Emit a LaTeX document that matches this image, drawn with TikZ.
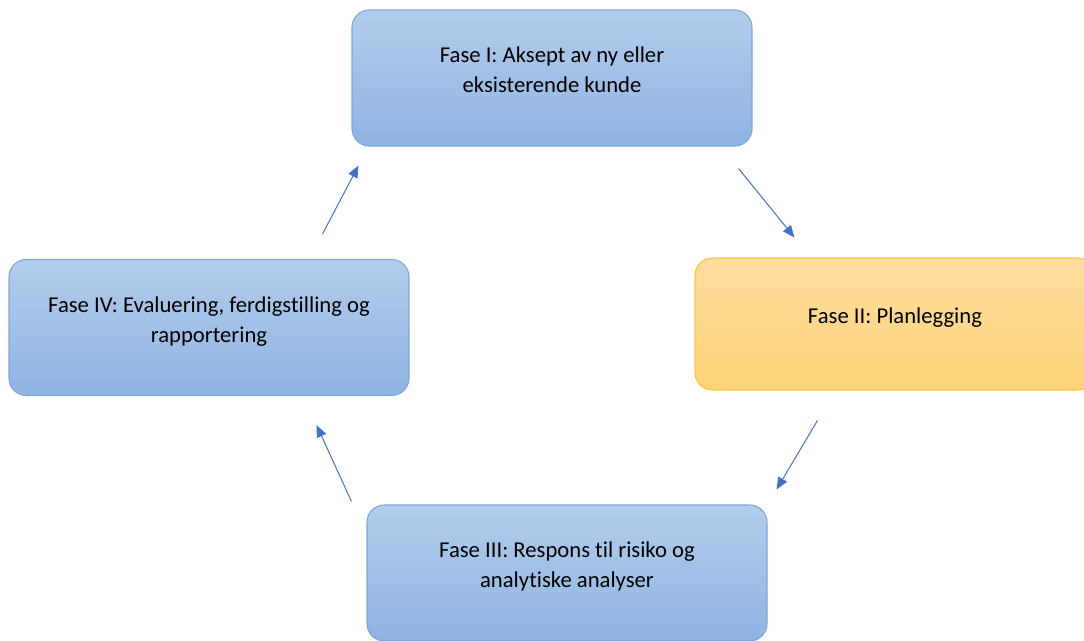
\documentclass[tikz,border=0pt]{standalone}
\usepackage{fontspec}
\setmainfont{Carlito}[Ligatures={NoCommon}]
\usepackage{tikz}
\usetikzlibrary{arrows.meta, positioning, calc}
\usepackage{xcolor}
\definecolor{phasetop}{HTML}{B2CCEB}
\definecolor{phasebottom}{HTML}{8FB4E3}
\definecolor{phaseline}{HTML}{7EA6DA}
\definecolor{plantop}{HTML}{FEDC9E}
\definecolor{planbottom}{HTML}{FED479}
\definecolor{planline}{HTML}{FFC63D}
\definecolor{cyclearrow}{HTML}{4472C4}
\newcommand{\phasetext}[1]{\raisebox{0.5pt}[0pt][0pt]{\begin{tabular}{@{}c@{}}#1\end{tabular}}}

\begin{document}
\begin{tikzpicture}[
  x=0.75pt, y=-0.75pt,
  phasenode/.style={rectangle, rounded corners=13pt, minimum width=300pt, minimum height=102pt,
    top color=phasetop, bottom color=phasebottom, draw=phaseline, line width=0.8pt,
    inner sep=0pt, font=\fontsize{17}{22.5}\selectfont},
  plannode/.style={phasenode, minimum height=99pt, top color=plantop, bottom color=planbottom, draw=planline},
  cyclearr/.style={draw=cyclearrow, line width=0.75pt, -{Triangle[length=9pt, width=7.5pt]}}
]
  \useasboundingbox (0,0) rectangle (1084,640);
  \clip (0,0) rectangle (1084,640);

  \node[phasenode] (f1) at (552,78) {\phasetext{Fase I: Aksept av ny eller\\eksisterende kunde}};
  \node[plannode] (f2) at (895,324) {\phasetext{Fase II: Planlegging}};
  \node[phasenode] (f3) at (567,573) {\phasetext{Fase III: Respons til risiko og\\analytiske analyser}};
  \node[phasenode] (f4) at (209,327.5) {\phasetext{Fase IV: Evaluering, ferdigstilling og\\rapportering}};

  \draw[cyclearr] ($(f1.south east)+(-14,22)$) -- ($(f2.north west)+(100,-20)$);
  \draw[cyclearr] ($(f2.south west)+(123,30)$) -- ($(f3.north east)+(9,-15)$);
  \draw[cyclearr] ($(f3.north west)+(-15,-3)$) -- ($(f4.south east)+(-93,29)$);
  \draw[cyclearr] ($(f4.north east)+(-87,-25)$) -- ($(f1.south west)+(7,19)$);
\end{tikzpicture}
\end{document}
